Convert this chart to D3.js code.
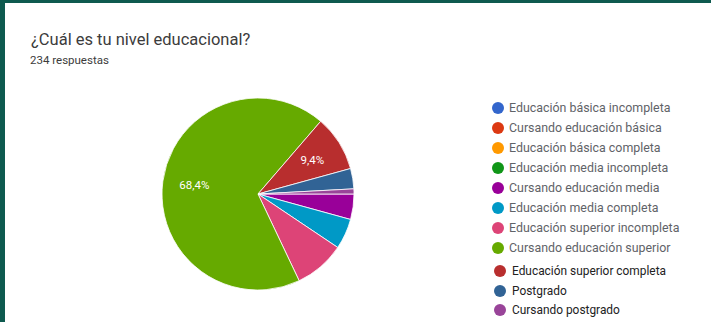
<!DOCTYPE html>
<html>
<head>
<meta charset="utf-8">
<script src="https://cdn.jsdelivr.net/npm/d3@7.9.0/dist/d3.min.js"></script>
<style>
  html, body { margin: 0; padding: 0; background: #fff; }
  svg { display: block; }
</style>
</head>
<body>
<script>
// Chart text
const title = "¿Cuál es tu nivel educacional?";
const subtitle = "234 respuestas";

// Categories, response counts and colours (Google Forms palette)
const categories = [
  "Educación básica incompleta",
  "Cursando educación básica",
  "Educación básica completa",
  "Educación media incompleta",
  "Cursando educación media",
  "Educación media completa",
  "Educación superior incompleta",
  "Cursando educación superior",
  "Educación superior completa",
  "Postgrado",
  "Cursando postgrado"
];
const counts = [0, 0, 0, 0, 10, 12, 20, 160, 22, 8, 2];
const colors = ["#3366cc", "#dc3912", "#ff9900", "#109618", "#990099", "#0099c6",
                "#dd4477", "#66aa00", "#b82e2e", "#316395", "#994499"];

const width = 711, height = 322;
const cx = 258, cy = 194, radius = 96;

const svg = d3.select("body").append("svg")
    .attr("width", width)
    .attr("height", height);

// frame (dark teal border on top and left)
svg.append("rect").attr("x", 0).attr("y", 0).attr("width", width).attr("height", 3).attr("fill", "#0e5a4f");
svg.append("rect").attr("x", 0).attr("y", 0).attr("width", 5).attr("height", height).attr("fill", "#0e5a4f");

// header
svg.append("text")
    .attr("x", 31).attr("y", 45)
    .attr("fill", "#3c3c3c")
    .style("font-family", "Roboto, sans-serif")
    .style("font-size", "16.5px")
    .text(title);

svg.append("text")
    .attr("x", 30).attr("y", 64)
    .attr("fill", "#3c3c3c")
    .style("font-family", "Roboto, sans-serif")
    .style("font-size", "11.5px")
    .text(subtitle);

// pie
const total = d3.sum(counts);
const pie = d3.pie()
    .sort(null)
    .startAngle(Math.PI / 2)
    .endAngle(Math.PI / 2 + 2 * Math.PI)
    .value(d => d);

const arcs = pie(counts);
const arc = d3.arc().innerRadius(0).outerRadius(radius);
const labelArc = d3.arc().innerRadius(radius * 0.67).outerRadius(radius * 0.67);

const g = svg.append("g").attr("transform", `translate(${cx},${cy})`);

g.selectAll("path")
    .data(arcs.filter(d => d.value > 0))
    .enter().append("path")
    .attr("d", arc)
    .attr("fill", d => colors[d.index])
    .attr("stroke", "#fff")
    .attr("stroke-width", 0.8);

g.selectAll("text")
    .data(arcs.filter(d => d.value / total > 0.092))
    .enter().append("text")
    .attr("transform", d => `translate(${labelArc.centroid(d)})`)
    .attr("text-anchor", "middle")
    .attr("dy", "0.35em")
    .attr("fill", "#fff")
    .style("font-family", "Roboto, sans-serif")
    .style("font-size", "11.5px")
    .text(d => d3.format(".1f")(d.value / total * 100).replace(".", ",") + "%");

// legend
const rowY = [108, 128, 148, 168, 188, 208, 228, 248, 271, 291, 310];
const legend = svg.append("g");
const items = legend.selectAll("g")
    .data(categories)
    .enter().append("g")
    .attr("transform", (d, i) => `translate(${i < 8 ? 498 : 500},${rowY[i]})`);

items.append("circle")
    .attr("r", 6)
    .attr("fill", (d, i) => colors[i]);

items.append("text")
    .attr("x", (d, i) => i < 8 ? 11 : 12)
    .attr("dy", "0.35em")
    .attr("fill", (d, i) => i < 8 ? "#5f6368" : "#222")
    .style("font-family", "Roboto, sans-serif")
    .style("font-size", (d, i) => i < 8 ? "12.4px" : "11.9px")
    .text(d => d);
</script>
</body>
</html>
